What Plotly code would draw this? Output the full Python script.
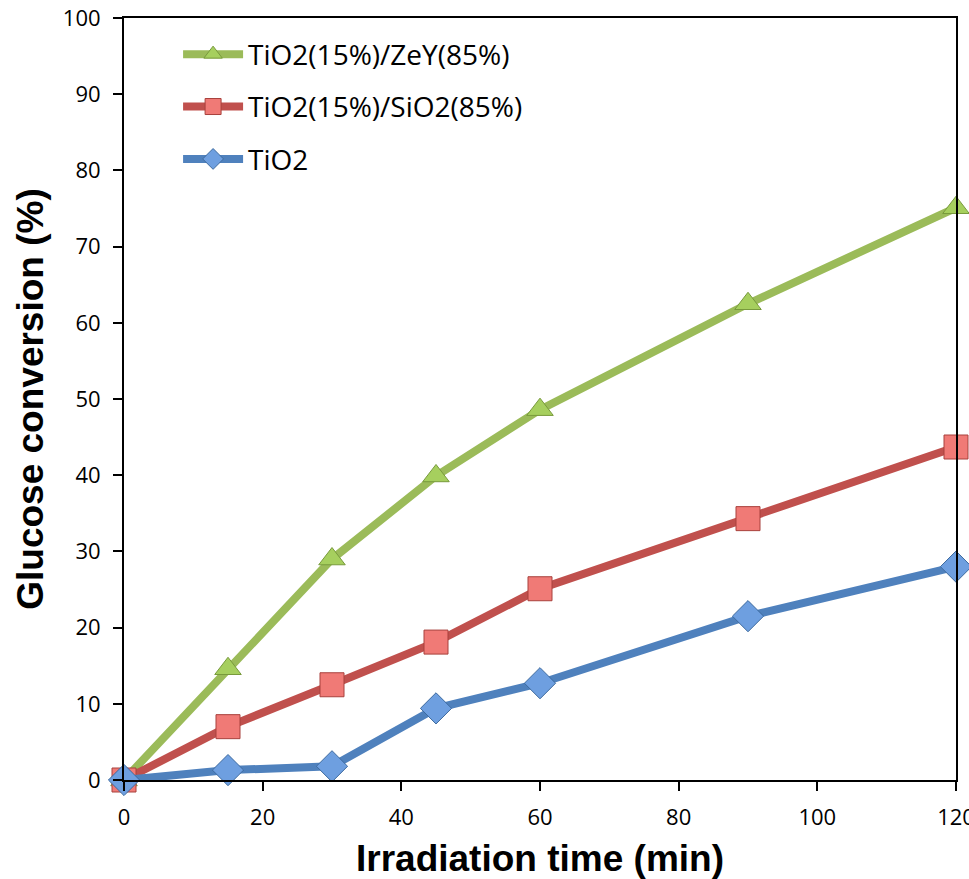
import plotly.graph_objects as go

time_min = [0, 15, 30, 45, 60, 90, 120]
zey = [0, 14.6, 29.0, 39.9, 48.6, 62.5, 75.1]
sio2 = [0, 7.0, 12.5, 18.1, 25.1, 34.3, 43.7]
tio2 = [0, 1.3, 1.8, 9.4, 12.7, 21.5, 28.0]

names = ["TiO2(15%)/ZeY(85%)", "TiO2(15%)/SiO2(85%)", "TiO2"]
x_ticks = [0, 20, 40, 60, 80, 100, 120]
y_ticks = [0, 10, 20, 30, 40, 50, 60, 70, 80, 90, 100]

fig = go.Figure()
series = [
    (names[0], zey, "#9BBB59", "triangle-up", "#A6CF5E", "#789A3C", 23),
    (names[1], sio2, "#C0504D", "square", "#F07A76", "#A8403C", 24),
    (names[2], tio2, "#4F81BD", "diamond", "#6E9FE0", "#3D6A9E", 24),
]
for i, (nm, ys, lc, sym, fc, oc, sz) in enumerate(series):
    fig.add_trace(go.Scatter(
        x=time_min, y=ys, name=nm, mode="lines+markers",
        legendgroup=f"g{i}",
        line=dict(color=lc, width=8),
        marker=dict(symbol=sym, size=sz, color=fc, line=dict(color=oc, width=1)),
        cliponaxis=False,
    ))

axis_common = dict(
    showline=True, linecolor="black", linewidth=2, mirror=True,
    ticks="outside", ticklen=9, tickwidth=2, tickcolor="black",
    showgrid=False, zeroline=False, ticklabeloverflow="allow",
    tickfont=dict(family="Open Sans", size=22, color="black"),
)
fig.update_xaxes(range=[0, 120], tickvals=x_ticks, ticklabelstandoff=8,
                 title=dict(text="Irradiation time (min)", standoff=16,
                            font=dict(family="Liberation Sans", size=37, color="black", weight="bold")),
                 **axis_common)
fig.update_yaxes(range=[0, 100], tickvals=y_ticks, ticklabelstandoff=8,
                 title=dict(text="Glucose conversion (%)", standoff=8,
                            font=dict(family="Liberation Sans", size=37, color="black", weight="bold")),
                 **axis_common)

fig.update_layout(
    width=969, height=879,
    margin=dict(l=124, r=13, t=18, b=99, autoexpand=False),
    plot_bgcolor="white", paper_bgcolor="white",
    showlegend=True,
    legend=dict(x=0.065, y=0.985, xanchor="left", yanchor="top",
                traceorder="grouped", tracegroupgap=13,
                font=dict(family="Open Sans", size=28, color="black"),
                bgcolor="rgba(0,0,0,0)", itemwidth=60),
)

fig.write_html("out.html")
